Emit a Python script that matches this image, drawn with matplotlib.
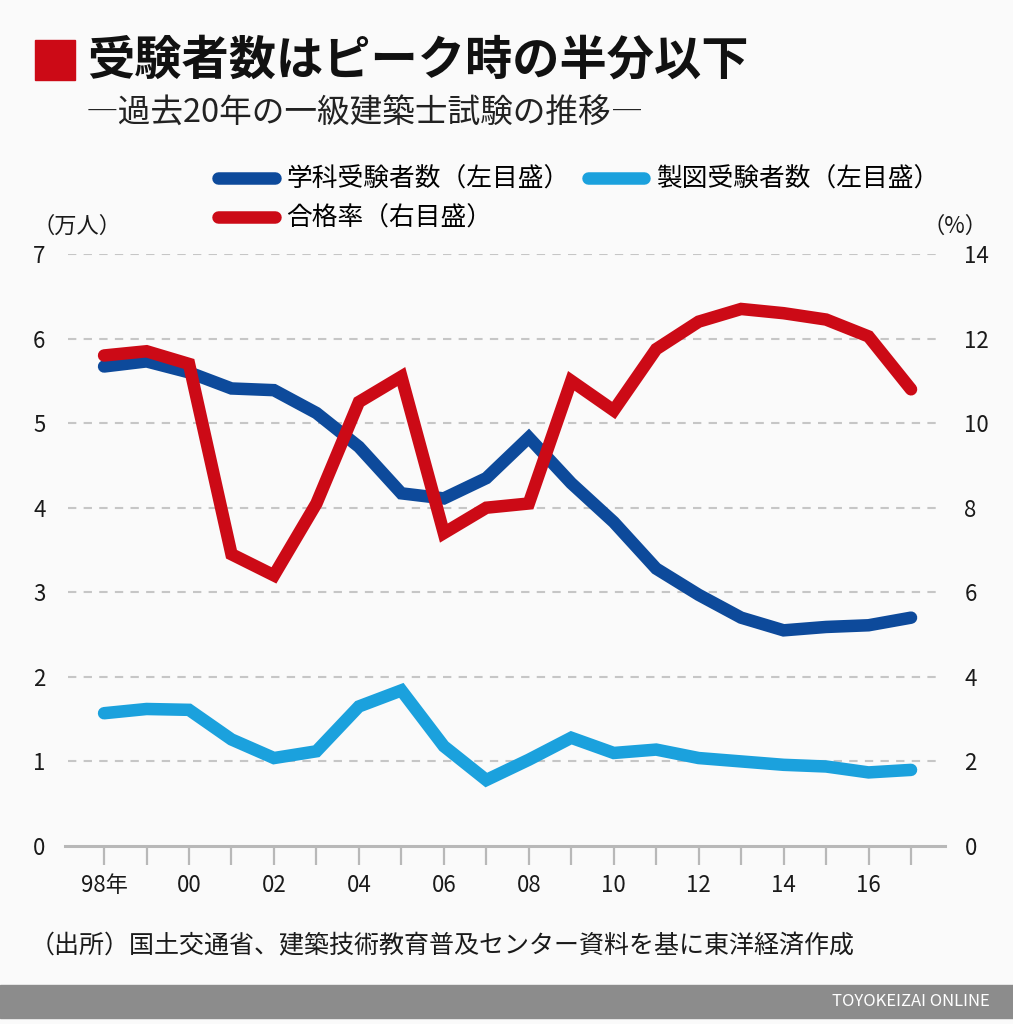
import matplotlib
matplotlib.use('Agg')
import matplotlib.pyplot as plt
from matplotlib.lines import Line2D
from matplotlib.patches import Rectangle

plt.rcParams['font.family'] = ['Noto Sans CJK JP', 'DejaVu Sans']

# Data
years = list(range(1998, 2018))
gakka = [5.67, 5.73, 5.60, 5.41, 5.39, 5.12, 4.72, 4.17, 4.11, 4.35,
         4.83, 4.29, 3.83, 3.28, 2.97, 2.70, 2.55, 2.59, 2.61, 2.70]
seizu = [1.57, 1.62, 1.61, 1.26, 1.04, 1.12, 1.65, 1.84, 1.18, 0.78,
         1.02, 1.28, 1.10, 1.14, 1.04, 1.00, 0.96, 0.94, 0.87, 0.90]
pass_rate = [11.6, 11.7, 11.4, 6.9, 6.4, 8.1, 10.5, 11.1, 7.4, 8.0,
             8.1, 11.0, 10.3, 11.75, 12.4, 12.7, 12.6, 12.45, 12.05, 10.8]
xtick_labels = ['98年', '', '00', '', '02', '', '04', '', '06', '', '08', '',
                '10', '', '12', '', '14', '', '16', '']
left_ticks = [0, 1, 2, 3, 4, 5, 6, 7]
right_ticks = [0, 2, 4, 6, 8, 10, 12, 14]

labels = ['学科受験者数（左目盛）', '製図受験者数（左目盛）', '合格率（右目盛）']
colors = ['#0d4a9b', '#1ba1dd', '#cc0a16']
bg = '#fafafa'

fig = plt.figure(figsize=(10.13, 10.24), dpi=100, facecolor=bg)
W, H = 1013, 1024

ax = fig.add_axes([65 / W, 1 - 846 / H, 880 / W, 592 / H])
ax.set_facecolor(bg)
ax2 = ax.twinx()

ax.set_xlim(1997.08, 2017.8)
ax.set_ylim(0, 7)
ax2.set_ylim(0, 14)

# dashed grid
for v in left_ticks[1:]:
    ax.plot([1997.15, 2017.7], [v, v], color='#c6c6c6', lw=1.5,
            dashes=(4, 3.5), zorder=1, solid_capstyle='butt')
ax.plot([1997.08, 2017.8], [0, 0], color='#b8b8b8', lw=2.2, zorder=1,
        clip_on=False)

ax.plot(years, gakka, color=colors[0], lw=9, solid_capstyle='round',
        solid_joinstyle='miter', zorder=3)
ax.plot(years, seizu, color=colors[1], lw=9, solid_capstyle='round',
        solid_joinstyle='miter', zorder=3)
ax2.plot(years, pass_rate, color=colors[2], lw=9, solid_capstyle='round',
         solid_joinstyle='miter', zorder=4)

for a in (ax, ax2):
    for s in a.spines.values():
        s.set_visible(False)

ax.set_xticks(years)
ax.set_xticklabels(xtick_labels, fontsize=16)
ax.tick_params(axis='x', length=14, width=1.6, color='#b8b8b8', pad=6,
               labelcolor='#1a1a1a')
ax.set_yticks(left_ticks)
ax.set_yticklabels([str(v) for v in left_ticks], fontsize=16)
ax.tick_params(axis='y', length=0, pad=14, labelcolor='#1a1a1a')
ax2.set_yticks(right_ticks)
ax2.set_yticklabels([str(v) for v in right_ticks], fontsize=16)
ax2.tick_params(axis='y', length=0, pad=14, labelcolor='#1a1a1a')

# title block
fig.patches.append(Rectangle((35 / W, 1 - 80 / H), 40 / W, 40 / H,
                             transform=fig.transFigure, color='#cc0a16'))
fig.text(87 / W, 1 - 61 / H, '受験者数はピーク時の半分以下', fontsize=34,
         fontweight='bold', va='center', ha='left', color='#111111')
fig.text(86 / W, 1 - 114 / H, '―過去20年の一級建築士試験の推移―', fontsize=23.5,
         va='center', ha='left', color='#222222')

# legend
handles = [Line2D([], [], color=c, lw=9, solid_capstyle='round') for c in colors]
order = [0, 2, 1]
fig.legend([handles[i] for i in order], [labels[i] for i in order],
           loc='upper left', bbox_to_anchor=(218 / W, 1 - 167 / H), ncol=2,
           frameon=False, fontsize=18.5, handlelength=2.2, handletextpad=0.45,
           columnspacing=0.72, labelspacing=0.5, borderpad=0, borderaxespad=0)

fig.text(33 / W, 1 - 226 / H, '（万人）', fontsize=16, va='center', ha='left',
         color='#1a1a1a')
fig.text(987 / W, 1 - 226 / H, '（%）', fontsize=16, va='center', ha='right',
         color='#1a1a1a')

fig.text(30 / W, 1 - 946 / H,
         '（出所）国土交通省、建築技術教育普及センター資料を基に東洋経済作成',
         fontsize=18, va='center', ha='left', color='#1a1a1a')

# footer band
fig.patches.append(Rectangle((0, 1 - 1018 / H), 1, 33 / H,
                             transform=fig.transFigure, color='#8c8c8c'))
fig.text(990 / W, 1 - 1001 / H, 'TOYOKEIZAI ONLINE', fontsize=12, va='center',
         ha='right', color='white')

fig.savefig('out.png', dpi=100, facecolor=bg)
